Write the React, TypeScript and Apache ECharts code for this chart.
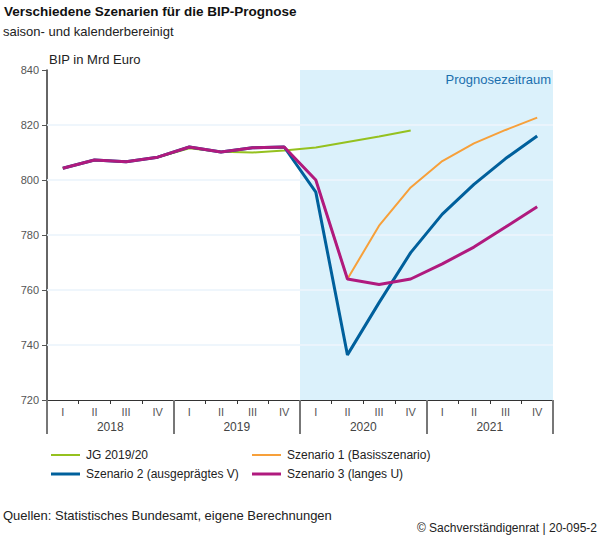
import React, { useEffect, useRef } from "react";
import * as echarts from "echarts";

const quarters = ["I", "II", "III", "IV", "I", "II", "III", "IV", "I", "II", "III", "IV", "I", "II", "III", "IV"];
const years = ["2018", "2019", "2020", "2021"];
const gridValues = [740, 760, 780, 800, 820];
const forecastStart = 8; // index of first forecast quarter (I 2020)

const jg: (number | null)[] = [804.3, 807.3, 806.6, 808.3, 811.5, 810.3, 810.0, 810.7, 811.8, 813.8, 815.8, 818.0, null, null, null, null];
const s1: (number | null)[] = [804.3, 807.3, 806.6, 808.3, 812.0, 810.2, 811.7, 812.0, 800.0, 764.0, 783.4, 797.3, 806.9, 813.3, 818.2, 822.7];
const s2: (number | null)[] = [804.3, 807.3, 806.6, 808.3, 812.0, 810.2, 811.7, 812.0, 795.6, 736.4, 755.4, 773.6, 787.6, 798.4, 807.8, 816.0];
const s3: (number | null)[] = [804.3, 807.3, 806.6, 808.3, 812.0, 810.2, 811.7, 812.0, 800.0, 764.0, 762.0, 764.0, 769.5, 775.6, 782.9, 790.3];

const names = ["JG 2019/20", "Szenario 1 (Basisszenario)", "Szenario 2 (ausgeprägtes V)", "Szenario 3 (langes U)"];
const colors = ["#95c11f", "#f7a03a", "#00609c", "#b01a7e"];
const widths = [2, 2, 3, 3];

const FONT = "'Liberation Sans', Arial, sans-serif";

export default function App() {
  const ref = useRef<HTMLDivElement>(null);
  useEffect(() => {
    document.body.style.margin = "0";
    const chart = echarts.init(ref.current!, null, { renderer: "svg" });
    const cats = quarters.map((q, i) => `${q} ${years[Math.floor(i / 4)]}`);
    const dataSets = [jg, s1, s2, s3];
    const legendPos = [
      { left: 51, top: 449 },
      { left: 252, top: 449 },
      { left: 51, top: 468 },
      { left: 252, top: 468 },
    ];
    chart.setOption({
      animation: false,
      textStyle: { fontFamily: FONT },
      title: [
        {
          text: "Verschiedene Szenarien für die BIP-Prognose",
          left: 4,
          top: 4,
          padding: 0,
          textStyle: { fontSize: 13.5, fontWeight: "bold", color: "#111", fontFamily: FONT },
        },
        {
          text: "saison- und kalenderbereinigt",
          left: 3,
          top: 25,
          padding: 0,
          textStyle: { fontSize: 13, fontWeight: "normal", color: "#222", fontFamily: FONT },
        },
        {
          text: "Quellen: Statistisches Bundesamt, eigene Berechnungen",
          left: 3,
          top: 509,
          padding: 0,
          textStyle: { fontSize: 13, fontWeight: "normal", color: "#222", fontFamily: FONT },
        },
        {
          text: "© Sachverständigenrat | 20-095-2",
          right: 3,
          top: 522,
          padding: 0,
          textStyle: { fontSize: 12, fontWeight: "normal", color: "#222", fontFamily: FONT },
        },
        {
          text: "Prognosezeitraum",
          right: 49,
          top: 73,
          padding: 0,
          z: 20,
          textStyle: { fontSize: 13, fontWeight: "normal", color: "#1a6fae", fontFamily: FONT },
        },
      ],
      legend: names.map((n, i) => ({
        data: [n],
        left: legendPos[i].left,
        top: legendPos[i].top,
        padding: 0,
        icon: "rect",
        itemWidth: 29,
        itemHeight: widths[i],
        itemGap: 6,
        textStyle: { fontSize: 12, color: "#222", fontFamily: FONT, padding: [0, 0, 0, 1] },
        selectedMode: false,
      })),
      grid: { left: 47, right: 47, top: 70, bottom: 140, containLabel: false },
      xAxis: [
        {
          type: "category",
          data: cats,
          boundaryGap: true,
          axisLine: { lineStyle: { color: "#333", width: 1 } },
          axisTick: { show: true, interval: 0, length: 4, lineStyle: { color: "#333" } },
          axisLabel: {
            interval: 0,
            margin: 6,
            fontSize: 11,
            color: "#555",
            fontFamily: FONT,
            formatter: (v: string) => v.split(" ")[0],
          },
          splitLine: { show: false },
        },
        {
          type: "category",
          data: years,
          position: "bottom",
          boundaryGap: true,
          axisLine: { show: false },
          axisTick: { show: true, interval: 0, length: 34, lineStyle: { color: "#777", width: 2 } },
          axisLabel: { interval: 0, margin: 21, fontSize: 12, color: "#444", fontFamily: FONT },
          splitLine: { show: false },
        },
        {
          type: "value",
          min: 0,
          max: quarters.length,
          show: false,
        },
      ],
      yAxis: {
        type: "value",
        min: 720,
        max: 840,
        interval: 20,
        name: "BIP in Mrd Euro",
        nameLocation: "end",
        nameGap: 4,
        nameTextStyle: { align: "left", fontSize: 13, color: "#222", padding: [0, 0, 0, 2], fontFamily: FONT },
        axisLine: { show: true, lineStyle: { color: "#333", width: 1.5 } },
        axisTick: { show: true, length: 5, lineStyle: { color: "#555" } },
        axisLabel: { fontSize: 11, color: "#555", margin: 8, fontFamily: FONT },
        splitLine: { show: false },
      },
      series: [
        {
          name: "_area",
          type: "line",
          xAxisIndex: 2,
          data: [],
          z: 1,
          silent: true,
          markArea: {
            silent: true,
            z: 1,
            itemStyle: { color: "#dbf1fb" },
            data: [[{ xAxis: forecastStart }, { xAxis: quarters.length }]],
          },
        },
        {
          name: "_grid",
          type: "line",
          xAxisIndex: 2,
          data: [],
          z: 2,
          silent: true,
          markLine: {
            silent: true,
            z: 2,
            symbol: "none",
            label: { show: false },
            lineStyle: { color: "rgba(236,245,251,0.85)", width: 2, type: "solid" },
            data: gridValues.map((v) => ({ yAxis: v })),
          },
        },
        ...dataSets.map((d, i) => ({
          name: names[i],
          type: "line",
          data: d,
          symbol: "none",
          showSymbol: false,
          z: 10 + i,
          lineStyle: { color: colors[i], width: widths[i] },
          itemStyle: { color: colors[i] },
        })),
      ],
    });
    return () => chart.dispose();
  }, []);
  return <div ref={ref} style={{ width: 600, height: 540 }} />;
}
